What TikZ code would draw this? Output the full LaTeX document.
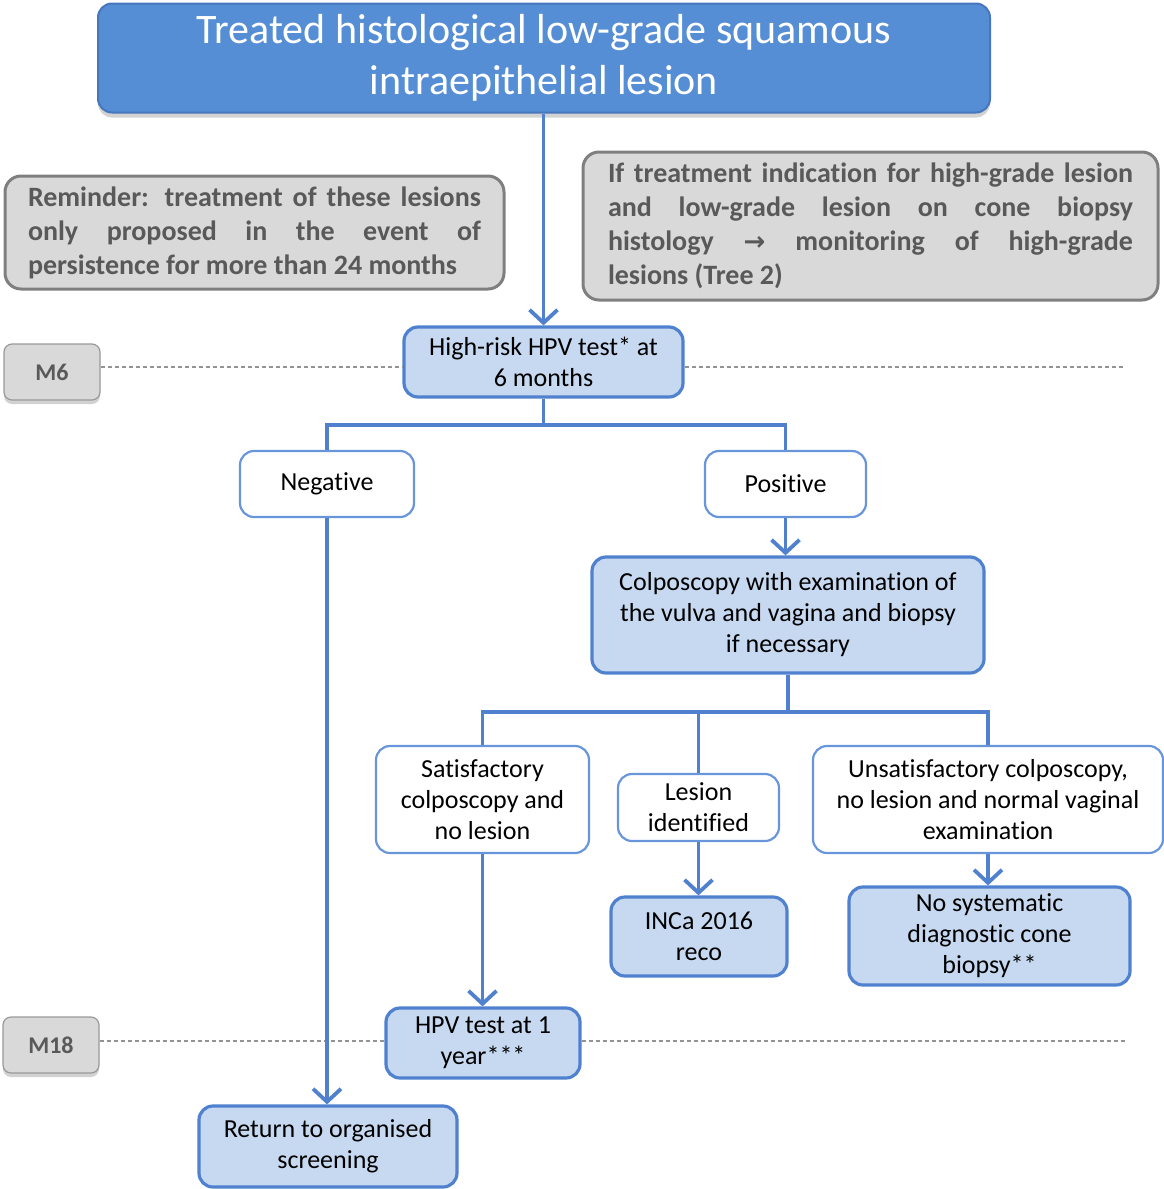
\documentclass[tikz,border=0pt]{standalone}
\usepackage{fontspec}
\setmainfont{Carlito}[Ligatures=NoCommon]
\newfontfamily\arrowfont{DejaVu Sans}
\usepackage{tikz}
\usetikzlibrary{arrows.meta,positioning,shadows,calc}

\definecolor{lineblue}{RGB}{79,129,207}
\definecolor{edgeblue}{RGB}{105,150,218}
\definecolor{boxfill}{RGB}{198,217,241}
\definecolor{titlefill}{RGB}{85,142,213}
\definecolor{titleedge}{RGB}{70,118,190}
\definecolor{notefill}{RGB}{217,217,217}
\definecolor{notegray}{RGB}{127,127,127}
\definecolor{notetext}{RGB}{89,89,89}

\begin{document}
\begin{tikzpicture}[x=1pt,y=-1pt,
  box/.style={draw=lineblue, line width=3.2pt, fill=boxfill, rounded corners=14pt,
    align=center, inner sep=0pt, font=\fontsize{26}{31}\selectfont},
  outcome/.style={draw=edgeblue, line width=2.2pt, fill=white, rounded corners=14pt,
    align=center, inner sep=0pt, font=\fontsize{26}{31}\selectfont},
  note/.style={draw=notegray, line width=3pt, fill=notefill, rounded corners=16pt,
    text=notetext, align=justify, inner ysep=0pt, font=\bfseries\fontsize{28}{34}\selectfont},
  month/.style={draw=notegray!80, line width=1.2pt, fill=notefill, rounded corners=8pt,
    text=notetext, minimum width=96pt, minimum height=56pt, inner sep=0pt,
    font=\bfseries\fontsize{24}{29}\selectfont,
    drop shadow={shadow xshift=0pt, shadow yshift=-4pt, fill=gray!70}},
  link/.style={draw=lineblue, line width=3.8pt},
  arr/.style={link, -{Straight Barb[length=13pt,width=28pt,line width=3.8pt]}},
  timeline/.style={draw=gray!85, line width=1.1pt, dash pattern=on 4pt off 3pt}]

  \useasboundingbox (0,0) rectangle (1164,1189);

  % title and side notes
  \node[draw=titleedge, line width=2pt, fill=titlefill, rounded corners=14pt, text=white,
    minimum width=892pt, minimum height=109pt, align=center, inner sep=0pt,
    font=\fontsize{42}{51}\selectfont,
    drop shadow={shadow xshift=0pt, shadow yshift=-5pt, fill=gray!70}]
    (title) at (544,58) {Treated histological low-grade squamous\\intraepithelial lesion};
  \node[note, text width=453pt, inner xsep=23pt, minimum height=113pt] (remind) at (254.5,232.5)
    {Reminder: treatment of these lesions\linebreak only proposed in the event of\linebreak persistence for more than 24 months};
  \node[note, text width=525pt, inner xsep=25pt, minimum height=148pt] (tree) at (870.5,226)
    {If treatment indication for high-grade lesion\linebreak and low-grade lesion on cone biopsy\linebreak histology {\arrowfont\bfseries\fontsize{26}{34}\selectfont →} monitoring of high-grade\linebreak lesions (Tree 2)};

  % time marks
  \node[month] (m6) at (52,372) {M6};
  \node[month] (m18) at (51,1045) {M18};

  % boxes
  \node[box, minimum width=279pt, minimum height=70pt] (hpv6) at (543.5,362) {High-risk HPV test* at\\6 months};
  \node[outcome, minimum width=174pt, minimum height=66pt] (neg) at (327,484) {Negative};
  \node[outcome, minimum width=161pt, minimum height=66pt] (pos) at (785.5,484) {Positive};
  \node[box, minimum width=392pt, minimum height=116pt] (colpo) at (788,615)
    {Colposcopy with examination of\\the vulva and vagina and biopsy\\if necessary};
  \node[outcome, minimum width=213pt, minimum height=107pt] (satis) at (482.5,799.5)
    {Satisfactory\\colposcopy and\\no lesion};
  \node[outcome, minimum width=161pt, minimum height=67pt] (lesion) at (698.5,807.5) {Lesion\\identified};
  \node[outcome, minimum width=350pt, minimum height=107pt] (unsat) at (988,799.5)
    {Unsatisfactory colposcopy,\\no lesion and normal vaginal\\examination};
  \node[box, minimum width=176pt, minimum height=79pt] (inca) at (699,936.5) {INCa 2016\\reco};
  \node[box, minimum width=281pt, minimum height=98pt] (nosys) at (989.5,936)
    {No systematic\\diagnostic cone\\biopsy**};
  \node[box, minimum width=194pt, minimum height=70pt] (hpv1) at (483,1043) {HPV test at 1\\year***};
  \node[box, minimum width=258pt, minimum height=81pt] (ret) at (328,1146.5) {Return to organised\\screening};

  % dashed time lines
  \coordinate (end6) at (1125,367);
  \coordinate (end18) at (1125,1041);
  \draw[timeline] (m6.east |- end6) -- (hpv6.west |- end6);
  \draw[timeline] (hpv6.east |- end6) -- (end6);
  \draw[timeline] (m18.east |- end18) -- (hpv1.west |- end18);
  \draw[timeline] (hpv1.east |- end18) -- (end18);

  % connectors
  \draw[arr] (title.south -| hpv6.north) -- (hpv6.north);
  \draw[link] (hpv6.south) -- ++(0,26) -| (neg.north);
  \draw[link] (hpv6.south) -- ++(0,26) -| (pos.north);
  \draw[arr] (pos.south) -- (pos.south |- colpo.north);
  \draw[link] (colpo.south) -- ++(0,37) -| (satis.north);
  \draw[link] (colpo.south) -- ++(0,37) -| (lesion.north);
  \draw[link] (colpo.south) -- ++(0,37) -| (unsat.north);
  \draw[arr] (satis.south) -- (satis.south |- hpv1.north);
  \draw[arr] (lesion.south) -- (lesion.south |- inca.north);
  \draw[arr] (unsat.south) -- (unsat.south |- nosys.north);
  \draw[arr] (neg.south) -- (neg.south |- ret.north);
\end{tikzpicture}
\end{document}
